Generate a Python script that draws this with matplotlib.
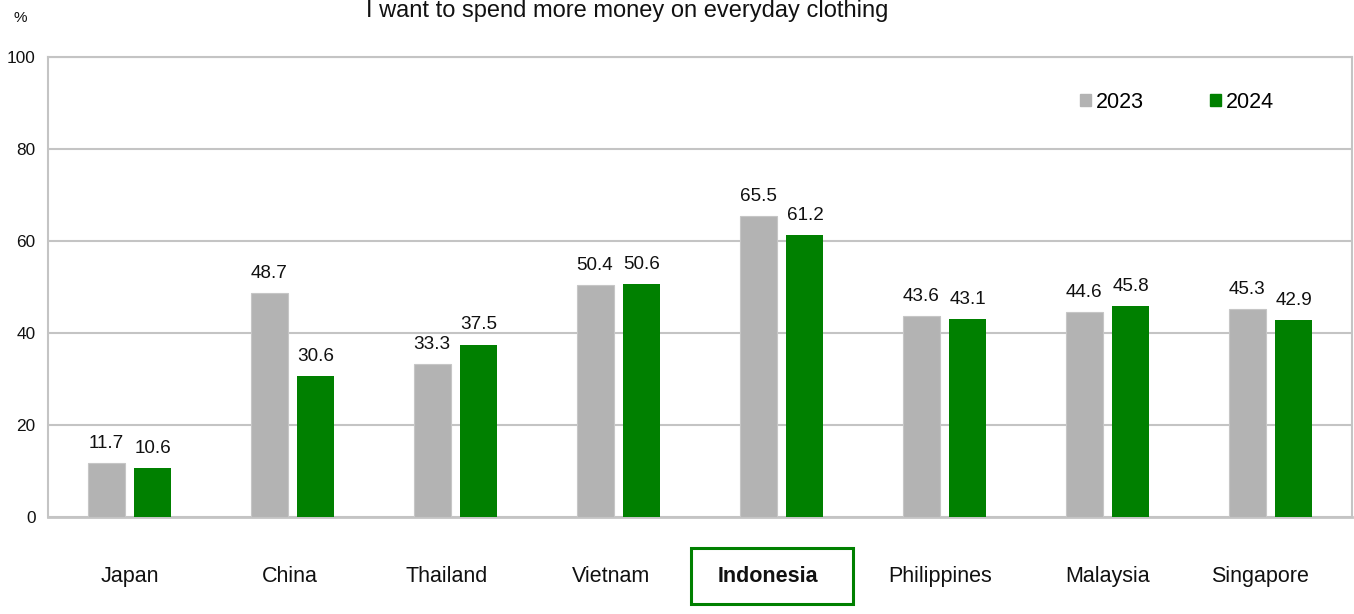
import matplotlib.pyplot as plt
from matplotlib.patches import Rectangle, Patch
import numpy as np

# Werte je Land (Anteil in %)
countries = ["Japan", "China", "Thailand", "Vietnam", "Indonesia",
             "Philippines", "Malaysia", "Singapore"]
values_2023 = [11.7, 48.7, 33.3, 50.4, 65.5, 43.6, 44.6, 45.3]
values_2024 = [10.6, 30.6, 37.5, 50.6, 61.2, 43.1, 45.8, 42.9]
years = ["2023", "2024"]
highlight = "Indonesia"

GRAY = "#b3b3b3"
GREEN = "#008000"
GRID = "#c4c4c4"

plt.rcParams["font.family"] = ["Liberation Sans", "DejaVu Sans"]

W, H = 1354, 614
fig = plt.figure(figsize=(W / 100, H / 100), dpi=100)
ax = fig.add_axes([48 / W, (H - 517) / H, 1304 / W, 460 / H])

x = np.arange(len(countries))
bw = 0.227
off = 0.144
bars_a = ax.bar(x - off, values_2023, bw, color=GRAY, edgecolor="#c6c6c6",
                linewidth=0.8, zorder=3, label=years[0])
bars_b = ax.bar(x + off, values_2024, bw, color=GREEN, zorder=3, label=years[1])

# Datenbeschriftungen über den Balken
for bars, vals in ((bars_a, values_2023), (bars_b, values_2024)):
    for b, v in zip(bars, vals):
        ax.annotate(f"{v:.1f}", (b.get_x() + b.get_width() / 2, v),
                    xytext=(0, 8), textcoords="offset points",
                    ha="center", va="bottom", fontsize=13.6, color="#111111")

ax.set_xlim(-0.5, len(countries) - 0.5)
ax.set_ylim(0, 100)
ax.set_yticks(range(0, 101, 20))
ax.tick_params(axis="y", length=0, pad=9, labelsize=12.4, labelcolor="#111111")

# Beschriftungen leicht versetzt (in Kategoriebreiten)
label_shift = np.array([0, -3, -9, -7, -14, -4, 0, -10]) / 163
ax.set_xticks(x + label_shift)
ax.set_xticklabels(countries, fontsize=15.5, color="#111111")
ax.tick_params(axis="x", length=0, pad=35.5)
for lbl in ax.get_xticklabels():
    if lbl.get_text() == highlight:
        lbl.set_fontweight("bold")

ax.grid(axis="y", color=GRID, linewidth=1.5, zorder=0)
for s in ax.spines.values():
    s.set_color(GRID)
    s.set_linewidth(1.5)
ax.spines["bottom"].set_linewidth(2)

# Rahmen um das hervorgehobene Land
i = countries.index(highlight)
ax.add_patch(Rectangle((i - 0.555, -0.189), 0.994, 0.122,
                       transform=ax.get_xaxis_transform(), fill=False,
                       edgecolor=GREEN, linewidth=2.2, clip_on=False))

handles = [Patch(color=GRAY, label=years[0]), Patch(color=GREEN, label=years[1])]
ax.legend(handles=handles, ncol=2, frameon=False, fontsize=15.5,
          loc="center left", bbox_to_anchor=(0.7914, 0.902), borderaxespad=0,
          borderpad=0, handlelength=0.5, handleheight=0.5,
          handletextpad=0.22, columnspacing=3.1)

fig.text(627 / W, 1 - 11 / H, "I want to spend more money on everyday clothing",
         ha="center", va="center", fontsize=17, color="#111111")
fig.text(20 / W, 1 - 18 / H, "%", ha="center", va="center", fontsize=11,
         color="#111111")

fig.savefig("out.png", dpi=100)
